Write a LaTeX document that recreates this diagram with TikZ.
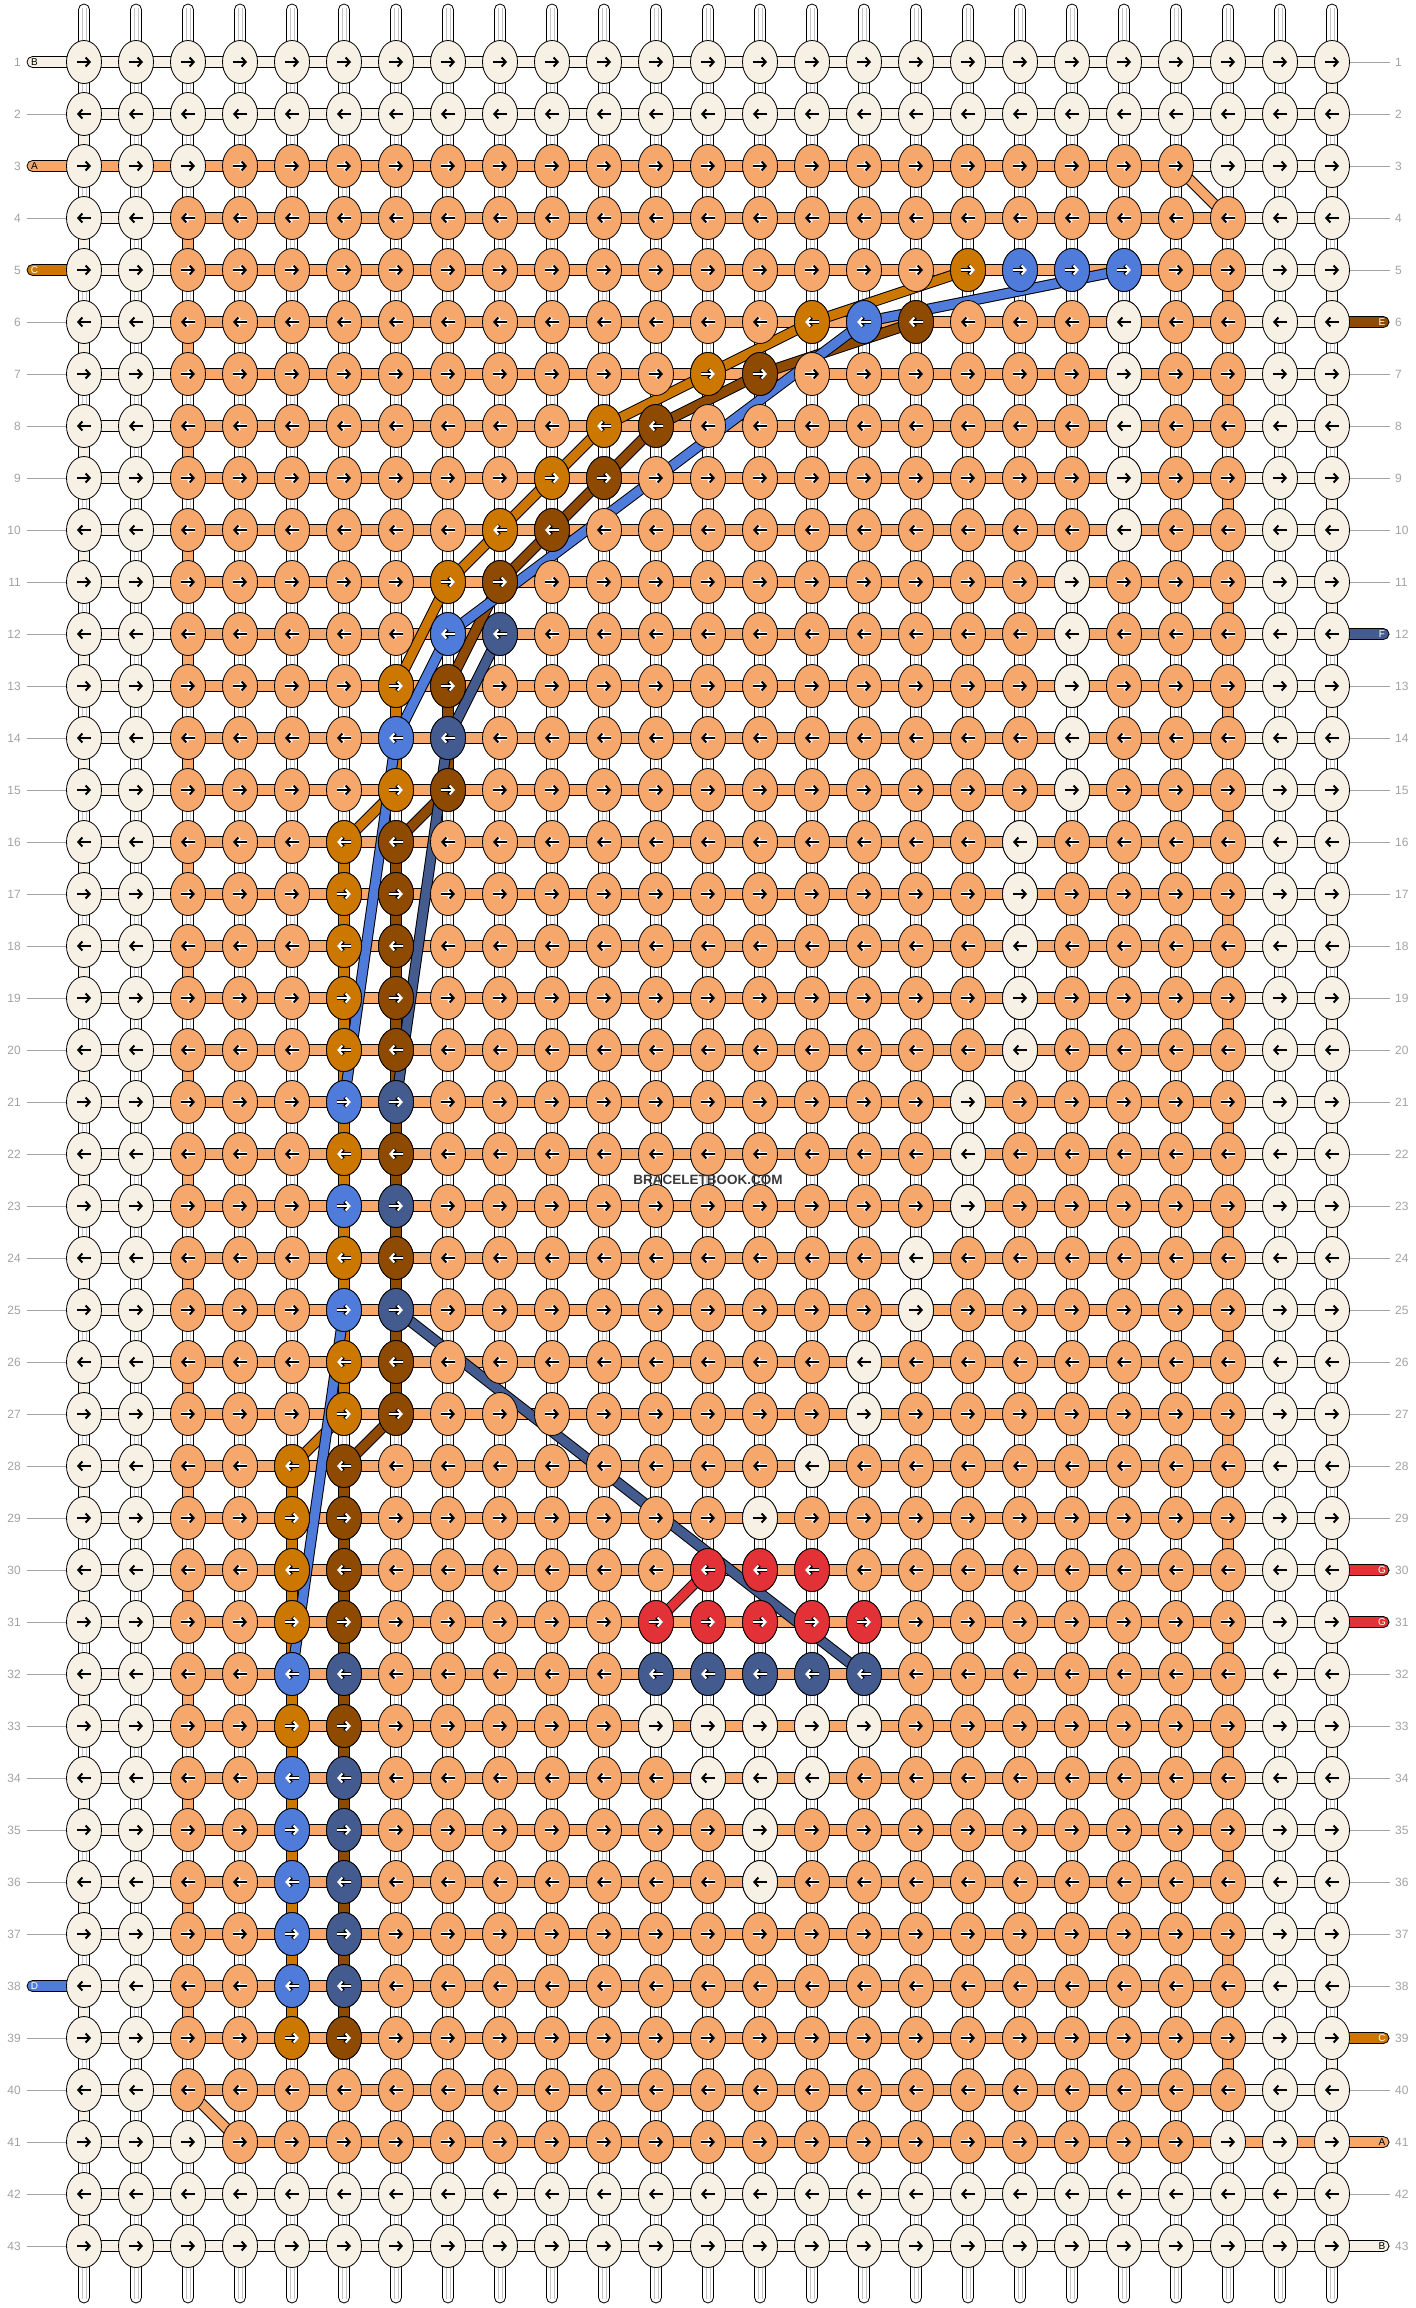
\documentclass[tikz,border=0pt]{standalone}
\usepackage{fontspec}
\setmainfont{Liberation Sans}
\usetikzlibrary{arrows.meta}
\definecolor{cb}{HTML}{F6F1E4}
\definecolor{ca}{HTML}{F5A76C}
\definecolor{cc}{HTML}{CC7700}
\definecolor{cd}{HTML}{4F7BDB}
\definecolor{ce}{HTML}{8E4A00}
\definecolor{cf}{HTML}{445B8F}
\definecolor{cg}{HTML}{E23238}
\definecolor{lblgray}{HTML}{A3A3A3}
\definecolor{strand}{HTML}{C4C4C4}
\definecolor{wm}{HTML}{3A3A3A}
\tikzset{
  outl/.style={draw=black,line width=0.8pt},
  arr/.style={line width=2pt,-{Straight Barb[length=4pt,width=9pt]}},
  rownum/.style={text=lblgray,font=\fontsize{12}{12}\selectfont,inner sep=0pt},
  tagtext/.style={font=\fontsize{10}{10}\selectfont,inner sep=0pt},
  strandline/.style={strand,line width=0.6pt},
}
\newcommand\knotat[4]{%
  \begin{scope}[shift={(k-#1-#2)}]
    \filldraw[fill=#3,outl] (0,0) ellipse [x radius=17.5pt,y radius=21.5pt];
    \ifodd#1\relax\def\ad{1}\else\def\ad{-1}\fi
    \ifcase#4\relax
      \draw[black,arr] ({-7*\ad},0) -- ({7*\ad},0);
    \or
      \draw[white,arr,line width=3.6pt] ({-7*\ad},0) -- ({7*\ad},0);
      \draw[black,arr] ({-7*\ad},0) -- ({7*\ad},0);
    \or
      \draw[black,arr,line width=3.6pt] ({-7*\ad},0) -- ({7*\ad},0);
      \draw[white,arr] ({-7*\ad},0) -- ({7*\ad},0);
    \fi
  \end{scope}}
\newcommand\vwhite[2]{%
  \filldraw[fill=white,outl] ({32+52*#2-5.5},{10+52*#1+14}) rectangle ({32+52*#2+5.5},{10+52*#1+38});
  \draw[strandline] ({32+52*#2-1.8},{10+52*#1+14}) -- ++(0,24);
  \draw[strandline] ({32+52*#2+1.8},{10+52*#1+14}) -- ++(0,24);}
\newcommand\vsolid[3]{%
  \filldraw[fill=#3,outl] ({32+52*#2-5.5},{10+52*#1+14}) rectangle ({32+52*#2+5.5},{10+52*#1+38});}
\newcommand\tube[2]{%
  \draw[black,line width=11pt,line join=round,line cap=round] #2;
  \draw[#1,line width=9pt,line join=round,line cap=round] #2;}
\newcommand\ltag[4]{%
  \filldraw[fill=#2,outl,rounded corners=5.5pt] (27,{10+52*#1-5.5}) rectangle (72,{10+52*#1+5.5});
  \node[tagtext,text=#4] at (34.5,{10+52*#1}) {#3};}
\newcommand\rtag[4]{%
  \filldraw[fill=#2,outl,rounded corners=5.5pt] (1344,{10+52*#1-5.5}) rectangle (1389,{10+52*#1+5.5});
  \node[tagtext,text=#4] at (1382,{10+52*#1}) {#3};}
\begin{document}
\begin{tikzpicture}[x=1pt,y=-1pt]
\fill[white] (0,0) rectangle (1416,2308);
\useasboundingbox (0,0) rectangle (1416,2308);
% knot positions
\foreach \r in {1,...,43}{\foreach \c in {1,...,25}{\coordinate (k-\r-\c) at ({32+52*\c},{10+52*\r});}}
% row numbers and guide lines
\foreach \r in {1,...,43}{
  \node[rownum,anchor=east] (ln-\r) at (21,{10+52*\r}) {\r};
  \node[rownum,anchor=west] (rn-\r) at (1395,{10+52*\r}) {\r};
  \draw[lblgray,line width=0.8pt] (27,{10+52*\r}) -- (66,{10+52*\r});
  \draw[lblgray,line width=0.8pt] (1350,{10+52*\r}) -- (1390,{10+52*\r});
}
% top and bottom stubs
\foreach \c in {1,...,25}{
  \filldraw[fill=white,outl,rounded corners=5.5pt] ({32+52*\c-5.5},4) rectangle ({32+52*\c+5.5},56);
  \draw[strandline] ({32+52*\c-1.8},8) -- ({32+52*\c-1.8},56);
  \draw[strandline] ({32+52*\c+1.8},8) -- ({32+52*\c+1.8},56);
  \filldraw[fill=white,outl,rounded corners=5.5pt] ({32+52*\c-5.5},2250) rectangle ({32+52*\c+5.5},2303);
  \draw[strandline] ({32+52*\c-1.8},2250) -- ({32+52*\c-1.8},2299);
  \draw[strandline] ({32+52*\c+1.8},2250) -- ({32+52*\c+1.8},2299);
}
% vertical links
\foreach \r in {1,...,42}{\foreach \c in {1,...,25}{\vwhite{\r}{\c}}}
\foreach \r in {2,4,...,42}{\vsolid{\r}{1}{cb}}
\foreach \r in {1,3,...,41}{\vsolid{\r}{25}{cb}}
\foreach \r in {4,6,...,38}{\vsolid{\r}{3}{ca}}
\foreach \r in {5,7,...,39}{\vsolid{\r}{23}{ca}}
\foreach \r in {13,14}{\vsolid{\r}{7}{cc}\vsolid{\r}{8}{ce}}
\foreach \r in {16,...,26}{\vsolid{\r}{6}{cc}\vsolid{\r}{7}{ce}}
\foreach \r in {28,...,38}{\vsolid{\r}{5}{cc}\vsolid{\r}{6}{ce}}
% horizontal links
\foreach \r in {1,...,43}{\foreach \c in {1,...,24}{%
  \def\hc{ca}%
  \ifnum\r<3 \def\hc{cb}\fi \ifnum\r>41 \def\hc{cb}\fi
  \ifnum\r=3 \ifnum\c>21 \def\hc{cb}\fi\fi
  \ifnum\r>3 \ifnum\r<41 \ifnum\c<3 \def\hc{cb}\fi \ifnum\c>22 \def\hc{cb}\fi\fi\fi
  \ifnum\r=41 \ifnum\c<4 \def\hc{cb}\fi\fi
  \filldraw[fill=\hc,outl] ({32+52*\c+14},{10+52*\r-5.5}) rectangle ({32+52*\c+38},{10+52*\r+5.5});
}}
% string tags
\ltag{1}{cb}{B}{black}
\ltag{3}{ca}{A}{black}
\ltag{5}{cc}{C}{white}
\ltag{38}{cd}{D}{white}
\rtag{6}{ce}{E}{white}
\rtag{12}{cf}{F}{white}
\rtag{30}{cg}{G}{white}
\rtag{31}{cg}{G}{white}
\rtag{39}{cc}{C}{white}
\rtag{41}{ca}{A}{black}
\rtag{43}{cb}{B}{black}
% floating strings
\tube{ca}{(k-3-22) -- (k-4-23)}
\tube{ca}{(k-40-3) -- (k-41-4)}
\tube{cc}{(k-5-18) -- (k-6-15) -- (k-7-13) -- (k-8-11) -- (k-9-10) -- (k-10-9) -- (k-11-8) -- (k-13-7)}
\tube{cc}{(k-15-7) -- (k-16-6)}
\tube{cc}{(k-27-6) -- (k-28-5)}
\tube{ce}{(k-6-17) -- (k-7-14) -- (k-8-12) -- (k-9-11) -- (k-10-10) -- (k-11-9) -- (k-13-8)}
\tube{ce}{(k-15-8) -- (k-16-7)}
\tube{ce}{(k-27-7) -- (k-28-6)}
\tube{cd}{(k-5-21) -- (k-6-16) -- (k-12-8) -- (k-14-7) -- (k-21-6)}
\tube{cd}{(k-25-6) -- (k-32-5)}
\tube{cf}{(k-12-9) -- (k-14-8) -- (k-21-7)}
\tube{cf}{(k-25-7) -- (k-32-16)}
\tube{cg}{(k-31-12) -- (k-30-13)}
% base knots
\foreach \r in {1,...,43}{\foreach \c in {1,...,25}{%
  \def\kc{ca}\def\ks{1}%
  \def\setcb{\def\kc{cb}\def\ks{0}}%
  \ifnum\c<3 \setcb\fi \ifnum\c>23 \setcb\fi
  \ifnum\r<3 \setcb\fi \ifnum\r>41 \setcb\fi
  \ifnum\r=3 \ifnum\c=3 \setcb\fi\ifnum\c=23 \setcb\fi\fi
  \ifnum\r=41 \ifnum\c=3 \setcb\fi\ifnum\c=23 \setcb\fi\fi
  \knotat{\r}{\c}{\kc}{\ks}}}
% cream knots of the curve
\foreach \r/\c in {6/21,7/21,8/21,9/21,10/21,11/20,12/20,13/20,14/20,15/20,16/19,17/19,18/19,19/19,20/19,21/18,22/18,23/18,24/17,25/17,26/16,27/16,28/15,29/14,33/12,33/13,33/14,33/15,33/16,34/13,34/14,34/15,35/14,36/14}{\knotat{\r}{\c}{cb}{0}}
% coloured knots
\foreach \r/\c in {5/18,6/15,7/13,8/11,9/10,10/9,11/8,13/7,15/7,16/6,17/6,18/6,19/6,20/6,22/6,24/6,26/6,27/6,28/5,29/5,30/5,31/5,33/5,39/5}{\knotat{\r}{\c}{cc}{2}}
\foreach \r/\c in {5/19,5/20,5/21,6/16,12/8,14/7,21/6,23/6,25/6,32/5,34/5,35/5,36/5,37/5,38/5}{\knotat{\r}{\c}{cd}{2}}
\foreach \r/\c in {6/17,7/14,8/12,9/11,10/10,11/9,13/8,15/8,16/7,17/7,18/7,19/7,20/7,22/7,24/7,26/7,27/7,28/6,29/6,30/6,31/6,33/6,39/6}{\knotat{\r}{\c}{ce}{2}}
\foreach \r/\c in {12/9,14/8,21/7,23/7,25/7,32/6,34/6,35/6,36/6,37/6,38/6,32/12,32/13,32/14,32/15,32/16}{\knotat{\r}{\c}{cf}{2}}
\foreach \r/\c in {30/13,30/14,30/15,31/12,31/13,31/14,31/15,31/16}{\knotat{\r}{\c}{cg}{2}}
% watermark
\node[font=\bfseries\fontsize{13.5}{13.5}\selectfont,text=wm,inner sep=0pt] (mark) at (708,1180) {BRACELETBOOK.COM};
\end{tikzpicture}
\end{document}
